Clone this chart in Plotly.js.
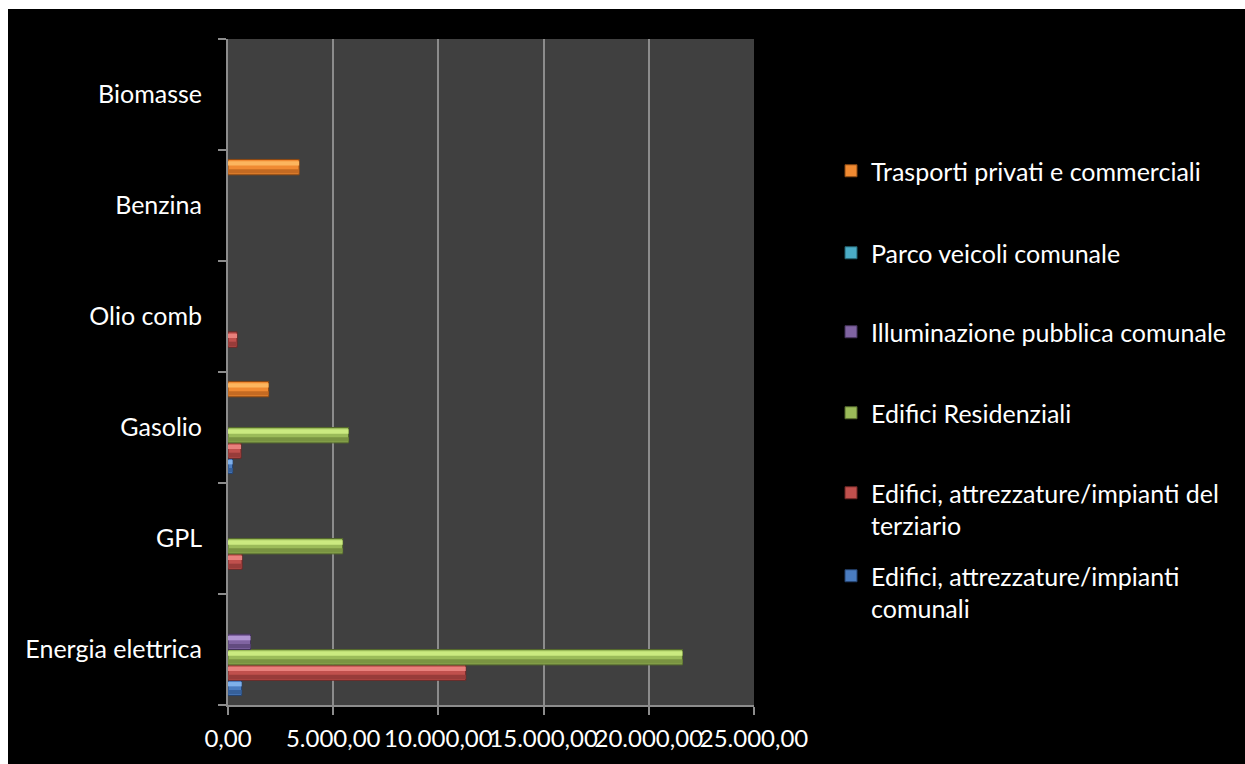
<!DOCTYPE html>
<html>
<head>
<meta charset="utf-8">
<script src="https://cdn.plot.ly/plotly-3.0.1.min.js"></script>
<style>
  html, body { margin: 0; padding: 0; background: #ffffff; }
  #chart { position: absolute; left: 8px; top: 9px; width: 1237px; height: 755px; background: #000000; }
</style>
</head>
<body>
<div id="chart"></div>
<script>
// Fuel categories, listed from the bottom of the chart to the top
const categories = ['Energia elettrica', 'GPL', 'Gasolio', 'Olio comb', 'Benzina', 'Biomasse'];

// Consumption per sector (same order as categories)
const comunali      = [650,   0,    220,  0,   0,    0];
const terziario     = [11300, 670,  620,  430, 0,    0];
const residenziali  = [21600, 5450, 5730, 0,   0,    0];
const illuminazione = [1070,  0,    0,    0,   0,    0];
const parcoVeicoli  = [0,     0,    0,    0,   0,    0];
const trasporti     = [0,     0,    1930, 0,   3380, 0];

const seriesNames = [
  'Edifici, attrezzature/impianti<br>comunali',
  'Edifici, attrezzature/impianti del<br>terziario',
  'Edifici Residenziali',
  'Illuminazione pubblica comunale',
  'Parco veicoli comunale',
  'Trasporti privati e commerciali'
];
const seriesValues = [comunali, terziario, residenziali, illuminazione, parcoVeicoli, trasporti];

// base / highlight / shadow / edge colours for each sector
const palette = [
  {base: '#4a7cc0', light: '#7fb0ea', dark: '#36609a', edge: '#24426e'},
  {base: '#c0504d', light: '#e8807c', dark: '#983c3a', edge: '#6c2624'},
  {base: '#9bbb59', light: '#cbea80', dark: '#7a9442', edge: '#55692c'},
  {base: '#8064a2', light: '#b095d2', dark: '#624b80', edge: '#43325a'},
  {base: '#4bacc6', light: '#82d6ec', dark: '#358599', edge: '#23606e'},
  {base: '#f08a32', light: '#fcb55e', dark: '#c46a22', edge: '#8a4812'}
];

const slot = 0.1383;          // thickness of one bar, in category units
const firstOffset = -0.415;   // lower edge of the bottom bar in each group

// empty cells are left undrawn instead of leaving a zero-length outline
const drawn = vals => vals.map(v => (v === 0 ? null : v));

const traces = [];
seriesValues.forEach((vals, i) => {
  const off = firstOffset + i * slot;
  const c = palette[i];
  const xv = drawn(vals);
  traces.push({
    type: 'bar', orientation: 'h',
    y: categories, x: xv,
    name: seriesNames[i],
    legend: i === 0 ? 'legend' : 'legend' + (i + 1),
    offset: off, width: slot,
    marker: {color: c.base, line: {color: c.edge, width: 1}},
    hoverinfo: 'skip'
  });
  // lower shaded strip of the bevel
  traces.push({
    type: 'bar', orientation: 'h',
    y: categories, x: xv, showlegend: false,
    offset: off + slot * 0.08, width: slot * 0.28,
    marker: {color: c.dark, line: {width: 0}},
    hoverinfo: 'skip'
  });
  // upper highlight strip of the bevel
  traces.push({
    type: 'bar', orientation: 'h',
    y: categories, x: xv, showlegend: false,
    offset: off + slot * 0.6, width: slot * 0.28,
    marker: {color: c.light, line: {width: 0}},
    hoverinfo: 'skip'
  });
});

// page-pixel helpers for legend placement
const M = {l: 220, r: 491, t: 30, b: 59};
const plotW = 1237 - M.l - M.r;
const plotH = 755 - M.t - M.b;
const px = x => (x - 8 - M.l) / plotW;
const py = y => 1 - (y - 9 - M.t) / plotH;

const FONT = 'Lato, "Open Sans", sans-serif';
const legendFont = {family: FONT, size: 25, color: '#ffffff'};
const itemCentres = [577, 494, 414, 333, 254, 172];  // comunali ... trasporti

const layout = {
  width: 1237, height: 755,
  paper_bgcolor: '#000000',
  plot_bgcolor: '#404040',
  margin: M,
  barmode: 'overlay',
  separators: ',.',
  font: {family: FONT, size: 25, color: '#ffffff'},
  xaxis: {
    range: [0, 25000],
    tickvals: [0, 5000, 10000, 15000, 20000, 25000],
    tickformat: ',.2f',
    tickangle: 0,
    showgrid: true, gridcolor: '#8c8c8c', gridwidth: 2,
    zeroline: false,
    showline: true, linecolor: '#8c8c8c', linewidth: 2,
    ticks: 'outside', ticklen: 8, tickwidth: 2, tickcolor: '#8c8c8c',
    ticklabelstandoff: 3,
    tickfont: {family: FONT, size: 24, color: '#ffffff'},
    fixedrange: true
  },
  yaxis: {
    type: 'category',
    categoryorder: 'array', categoryarray: categories,
    range: [-0.5, 5.5],
    showgrid: false, zeroline: false,
    showline: true, linecolor: '#8c8c8c', linewidth: 2,
    ticks: 'outside', ticklen: 8, tickwidth: 2, tickcolor: '#8c8c8c',
    tickson: 'boundaries',
    ticklabelstandoff: 19,
    tickfont: {family: FONT, size: 25, color: '#ffffff'},
    fixedrange: true
  },
  showlegend: true
};

itemCentres.forEach((yc, i) => {
  const key = i === 0 ? 'legend' : 'legend' + (i + 1);
  layout[key] = {
    x: px(831), xanchor: 'left',
    y: py(yc - 24), yanchor: 'top',
    bgcolor: 'rgba(0,0,0,0)',
    font: legendFont,
    valign: 'top',
    itemclick: false, itemdoubleclick: false
  };
});

Plotly.newPlot('chart', traces, layout, {displayModeBar: false, staticPlot: true});
</script>
</body>
</html>
